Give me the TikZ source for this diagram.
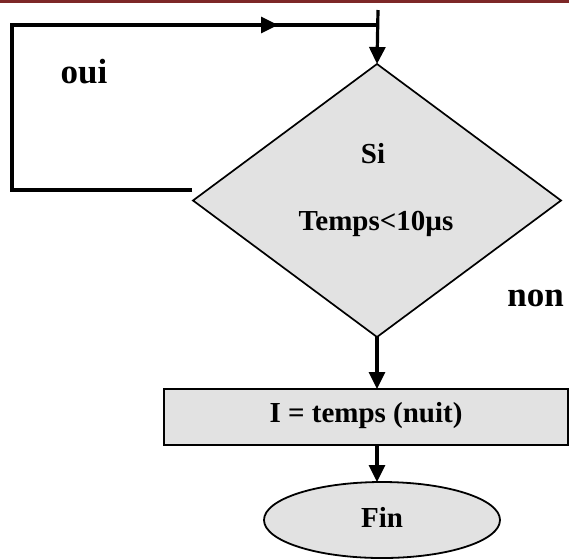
\documentclass[tikz,border=0pt]{standalone}
\usepackage{fontspec}
\setmainfont{Liberation Serif}
\usetikzlibrary{arrows.meta,shapes.geometric}
\definecolor{barred}{RGB}{125,40,40}
\definecolor{shapefill}{RGB}{226,226,226}
\tikzset{
  conn/.style={line width=3.2pt, -{Triangle[length=17pt,width=16pt]}},
  plainconn/.style={line width=3.2pt},
  txt/.style={font=\bfseries\fontsize{29}{30}\selectfont, inner sep=0pt, anchor=base},
  bigtxt/.style={font=\bfseries\fontsize{35}{38}\selectfont, inner sep=0pt, anchor=base},
  shapebox/.style={draw, fill=shapefill, inner sep=0pt, outer sep=0pt},
}
\begin{document}
\begin{tikzpicture}[x=1pt,y=-1pt]
  \useasboundingbox (0,0) rectangle (569,558);
  \fill[barred] (0,0) rectangle (569,3);

  % shapes
  \node[shapebox, diamond, line width=1.7pt, minimum width=368pt, minimum height=273pt] (d) at (377,200.5) {};
  \node[shapebox, rectangle, line width=2.2pt, minimum width=404pt, minimum height=56pt] (r) at (366,417) {};
  \node[shapebox, ellipse, line width=1.8pt, minimum width=236pt, minimum height=76pt] (e) at (382,520) {};

  % texts
  \node[txt] (si) at (373,163) {Si};
  \node[txt] (cond) at (376,230) {Temps<10µs};
  \node[txt] (rt) at (366,422) {I = temps (nuit)};
  \node[txt] (fin) at (382,527) {Fin};
  \node[bigtxt] (oui) at (84,83) {oui};
  \node[bigtxt] (non) at (535.5,306) {non};

  % loop coordinates
  \coordinate (top) at (378,10);
  \coordinate (loopstart) at (192,190);
  \coordinate (bl) at (12,190);
  \coordinate (tl) at (12,25);
  \coordinate (tr) at (378,25);
  \coordinate (mid) at (278,25);

  % connectors
  \draw[plainconn] (loopstart) -- (bl) -- (tl) -- (tr);
  \draw[conn] (tl) -- (mid);
  \draw[conn] (top) -- (d.north);
  \draw[conn] (d.south) -- (r.north -| d.south);
  \draw[conn] (r.south -| d.south) -- (e.north -| d.south);
\end{tikzpicture}
\end{document}
